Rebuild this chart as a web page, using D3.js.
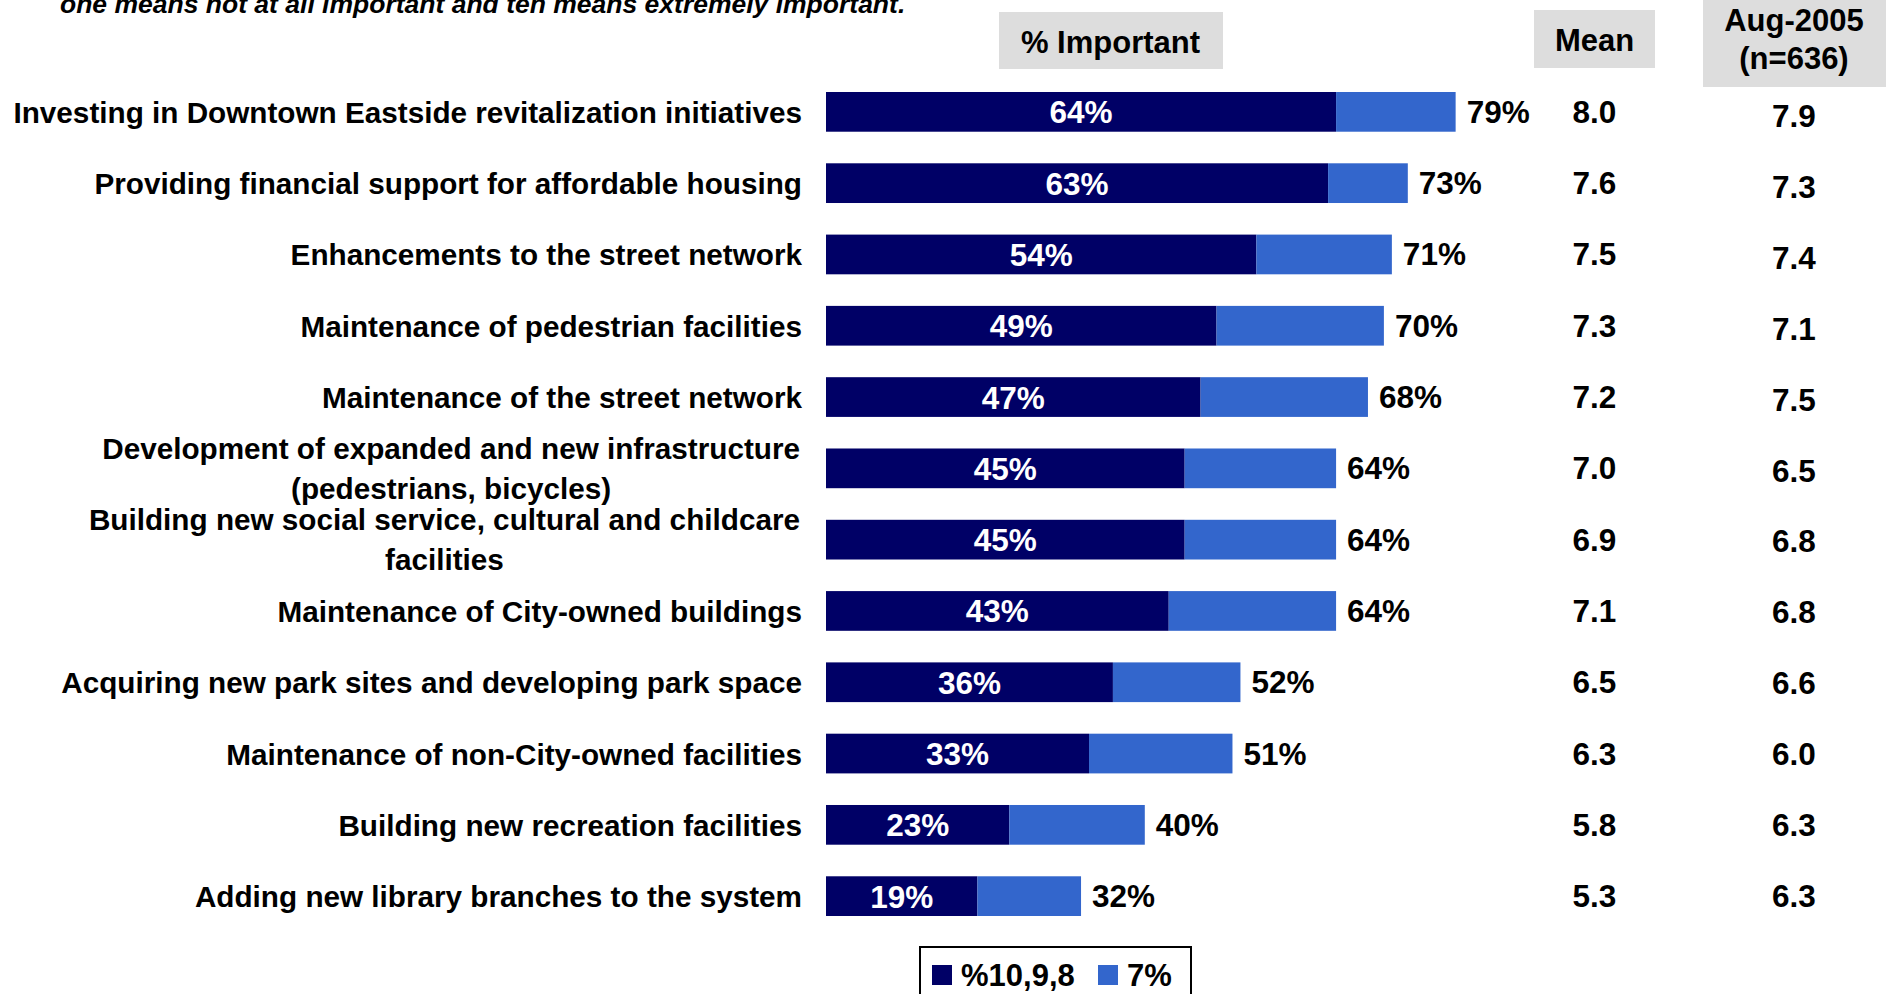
<!DOCTYPE html>
<html>
<head>
<meta charset="utf-8">
<script src="https://cdn.jsdelivr.net/npm/d3@7"></script>
<style>
  html, body { margin: 0; padding: 0; background: #ffffff; }
  svg { display: block; }
  text { font-family: "Liberation Sans", Arial, Helvetica, sans-serif; font-weight: bold; }
</style>
</head>
<body>
<svg id="chart" width="1890" height="994"></svg>
<script>
// Survey items (\n marks a line break in the label)
const categories = [
  "Investing in Downtown Eastside revitalization initiatives",
  "Providing financial support for affordable housing",
  "Enhancements to the street network",
  "Maintenance of pedestrian facilities",
  "Maintenance of the street network",
  "Development of expanded and new infrastructure\n(pedestrians, bicycles)",
  "Building new social service, cultural and childcare\nfacilities",
  "Maintenance of City-owned buildings",
  "Acquiring new park sites and developing park space",
  "Maintenance of non-City-owned facilities",
  "Building new recreation facilities",
  "Adding new library branches to the system"
];

// % rating 10, 9 or 8
const topRatings = [64, 63, 54, 49, 47, 45, 45, 43, 36, 33, 23, 19];
// total % important (ratings 10 to 7)
const totalImportant = [79, 73, 71, 70, 68, 64, 64, 64, 52, 51, 40, 32];
// mean scores, current wave
const meanScores = [8.0, 7.6, 7.5, 7.3, 7.2, 7.0, 6.9, 7.1, 6.5, 6.3, 5.8, 5.3];
// mean scores, Aug-2005 wave
const aug2005Means = [7.9, 7.3, 7.4, 7.1, 7.5, 6.5, 6.8, 6.8, 6.6, 6.0, 6.3, 6.3];

const seriesNames = ["%10,9,8", "7%"];
const colors = ["#000066", "#3366CC"];

const svg = d3.select("#chart");

const x = d3.scaleLinear().domain([0, 100]).range([826, 1623]);
const y = d3.scaleBand().domain(categories).range([92, 916]).paddingInner(0.443).paddingOuter(0);
const yc = d => y(d) + y.bandwidth() / 2;
// Aug-2005 column sits a touch lower at the top of the table
const yAug = d3.scalePoint().domain(categories).range([yc(categories[0]) + 4, yc(categories[categories.length - 1])]);

const rows = categories.map((c, i) => ({
  cat: c,
  top: topRatings[i],
  total: totalImportant[i],
  mean: meanScores[i],
  aug: aug2005Means[i]
}));

// subtitle line (question wording)
svg.append("text")
  .attr("x", 60).attr("y", 13)
  .style("font-size", "26.5px").style("font-style", "italic")
  .attr("fill", "#000")
  .text("one means not at all important and ten means extremely important.");

// column headers
const meanX = 1594.5, augX = 1794;
const hdr = svg.append("g");
hdr.append("rect").attr("x", 999).attr("y", 12).attr("width", 224).attr("height", 57).attr("fill", "#DDDDDD");
hdr.append("text").attr("x", 1110.5).attr("y", 53).attr("text-anchor", "middle")
  .style("font-size", "31px").text("% Important");
hdr.append("rect").attr("x", 1534).attr("y", 10).attr("width", 121).attr("height", 58).attr("fill", "#DDDDDD");
hdr.append("text").attr("x", meanX).attr("y", 51).attr("text-anchor", "middle")
  .style("font-size", "31px").text("Mean");
hdr.append("rect").attr("x", 1703).attr("y", -2).attr("width", 183).attr("height", 89).attr("fill", "#DDDDDD");
const augHdr = hdr.append("text").attr("text-anchor", "middle").style("font-size", "31px");
augHdr.append("tspan").attr("x", augX).attr("y", 30.5).text("Aug-2005");
augHdr.append("tspan").attr("x", augX).attr("y", 68.5).text("(n=636)");

// category labels
const labelRight = 802;
const labels = svg.append("g").selectAll("text").data(rows).join("text")
  .style("font-size", "29.7px").attr("fill", "#000");
labels.each(function(d) {
  const t = d3.select(this);
  const lines = d.cat.split("\n");
  if (lines.length === 1) {
    t.attr("x", labelRight).attr("y", yc(d.cat) + 11).attr("text-anchor", "end").text(lines[0]);
  } else {
    t.attr("text-anchor", "middle");
    const spans = lines.map((l, k) => t.append("tspan").attr("y", yc(d.cat) - 9.5 + k * 40).text(l));
    const w = d3.max(spans, s => s.node().getComputedTextLength());
    spans.forEach(s => s.attr("x", labelRight - 2 - w / 2));
  }
});

// stacked bars
const bars = svg.append("g");
bars.selectAll("rect.top").data(rows).join("rect").attr("class", "top")
  .attr("x", x(0)).attr("y", d => y(d.cat))
  .attr("width", d => x(d.top) - x(0)).attr("height", y.bandwidth())
  .attr("fill", colors[0]);
bars.selectAll("rect.seven").data(rows).join("rect").attr("class", "seven")
  .attr("x", d => x(d.top)).attr("y", d => y(d.cat))
  .attr("width", d => x(d.total) - x(d.top)).attr("height", y.bandwidth())
  .attr("fill", colors[1]);

// value labels
const vals = svg.append("g").style("font-size", "31.5px");
vals.selectAll("text.in").data(rows).join("text").attr("class", "in")
  .attr("x", d => (x(0) + x(d.top)) / 2).attr("y", d => yc(d.cat) + 11.5)
  .attr("text-anchor", "middle").attr("fill", "#fff")
  .text(d => d.top + "%");
vals.selectAll("text.tot").data(rows).join("text").attr("class", "tot")
  .attr("x", d => x(d.total) + 11).attr("y", d => yc(d.cat) + 11)
  .attr("fill", "#000")
  .text(d => d.total + "%");
vals.selectAll("text.mean").data(rows).join("text").attr("class", "mean")
  .attr("x", meanX).attr("y", d => yc(d.cat) + 11)
  .attr("text-anchor", "middle").attr("fill", "#000")
  .text(d => d.mean.toFixed(1));
vals.selectAll("text.aug").data(rows).join("text").attr("class", "aug")
  .attr("x", augX).attr("y", d => yAug(d.cat) + 11)
  .attr("text-anchor", "middle").attr("fill", "#000")
  .text(d => d.aug.toFixed(1));

// legend
const lg = svg.append("g");
lg.append("rect").attr("x", 920).attr("y", 947).attr("width", 271).attr("height", 70)
  .attr("fill", "#fff").attr("stroke", "#000").attr("stroke-width", 2);
const legendX = [932, 1098];
seriesNames.forEach((name, i) => {
  lg.append("rect").attr("x", legendX[i]).attr("y", 965).attr("width", 20).attr("height", 20).attr("fill", colors[i]);
  lg.append("text").attr("x", legendX[i] + 29).attr("y", 985.5)
    .style("font-size", "31px").attr("fill", "#000").text(name);
});
</script>
</body>
</html>
